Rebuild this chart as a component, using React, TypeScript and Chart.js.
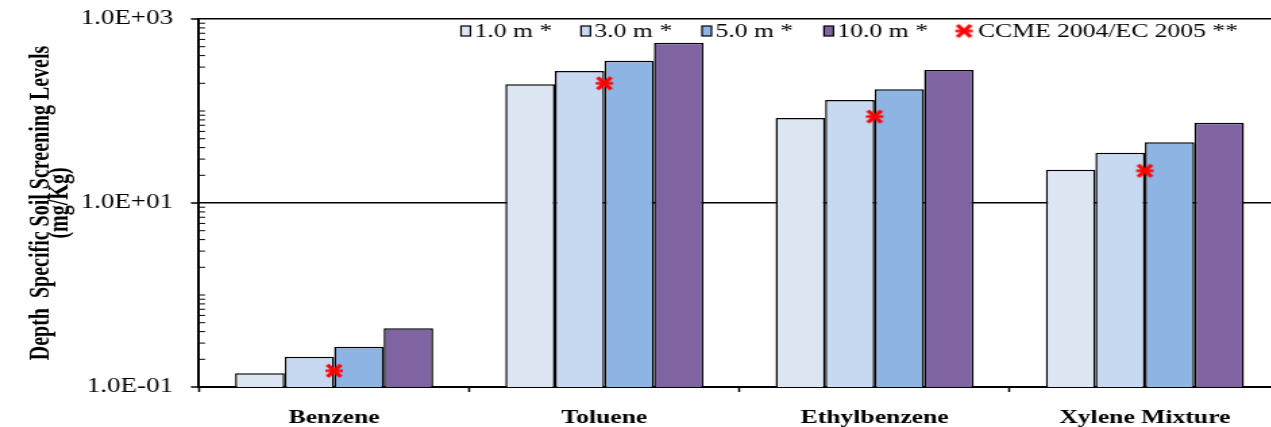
import React, { useEffect, useRef } from 'react';
import { Chart, registerables } from 'chart.js';
Chart.register(...registerables);

const categories = ['Benzene', 'Toluene', 'Ethylbenzene', 'Xylene Mixture'];
const seriesLabels = ['1.0 m *', '3.0 m *', '5.0 m *', '10.0 m *'];
const depth1m = [0.141, 195, 84, 23];
const depth3m = [0.213, 272, 132, 35.2];
const depth5m = [0.274, 352, 172, 45.7];
const depth10m = [0.435, 553, 279, 74.6];
const ccmeLabel = 'CCME 2004/EC 2005 **';
const ccmeValues = [0.15, 200, 87, 22.4];
const yTickValues = [0.1, 10, 1000];
const yTickLabels = ['1.0E-01', '1.0E+01', '1.0E+03'];
const yTitleLines = ['Depth  Specific Soil Screening Levels', '(mg/Kg)'];
const barColors = ['#DCE6F2', '#C6D9F1', '#8EB4E3', '#8064A2'];

const S = 1.35; // horizontal stretch of the whole picture
const FULL_W = 1285;
const INNER_W = Math.ceil(FULL_W / S);
const H = 427;

function makeStar(): HTMLCanvasElement {
  const c = document.createElement('canvas');
  c.width = 15;
  c.height = 17;
  const g = c.getContext('2d')!;
  g.strokeStyle = '#FF0000';
  g.lineWidth = 3.4;
  g.beginPath();
  g.moveTo(2.5, 2.5);
  g.lineTo(12.5, 14.5);
  g.moveTo(12.5, 2.5);
  g.lineTo(2.5, 14.5);
  g.stroke();
  g.lineWidth = 2.4;
  g.beginPath();
  g.moveTo(1, 8.5);
  g.lineTo(14, 8.5);
  g.stroke();
  return c;
}

export default function App() {
  const ref = useRef<HTMLCanvasElement | null>(null);

  useEffect(() => {
    if (!ref.current) return;
    const star = makeStar();
    const series = [depth1m, depth3m, depth5m, depth10m];

    const decoPlugin = {
      id: 'deco',
      afterDraw(chart: any) {
        const ctx = chart.ctx;
        const y = chart.scales.y;
        const area = chart.chartArea;
        ctx.save();
        ctx.strokeStyle = '#000';
        ctx.lineWidth = 1.5;
        yTickValues.forEach((v) => {
          const py = y.getPixelForValue(v);
          ctx.beginPath();
          ctx.moveTo(area.left - 6, py);
          ctx.lineTo(area.left, py);
          ctx.stroke();
        });
        ctx.lineWidth = 1;
        for (let n = -1; n <= 2; n++) {
          for (let k = 1; k <= 9; k++) {
            if (k === 1 && (n === -1 || n === 1)) continue;
            const v = k * Math.pow(10, n);
            const py = y.getPixelForValue(v);
            ctx.beginPath();
            ctx.moveTo(area.left, py);
            ctx.lineTo(area.left + 4.5, py);
            ctx.stroke();
          }
        }
        ctx.fillStyle = '#000';
        ctx.font = 'bold 20px "Liberation Serif"';
        ctx.textAlign = 'center';
        ctx.textBaseline = 'middle';
        const cy = (area.top + area.bottom) / 2;
        const xs = [42 / S, 61 / S];
        yTitleLines.forEach((t, i) => {
          ctx.save();
          ctx.translate(xs[i], cy);
          ctx.rotate(-Math.PI / 2);
          ctx.fillText(t, 0, 0);
          ctx.restore();
        });
        ctx.font = '19px "Liberation Serif"';
        ctx.textAlign = 'left';
        ctx.textBaseline = 'middle';
        const ly = 31;
        const boxX = [461, 581, 702, 824];
        seriesLabels.forEach((lab, i) => {
          const bx = boxX[i] / S;
          ctx.fillStyle = barColors[i];
          ctx.fillRect(bx, ly - 5, 7, 10);
          ctx.strokeStyle = '#000';
          ctx.lineWidth = 1.2;
          ctx.strokeRect(bx, ly - 5, 7, 10);
          ctx.fillStyle = '#000';
          ctx.fillText(lab, bx + 10, ly + 1);
        });
        const sx = 964 / S;
        ctx.drawImage(star, sx - star.width / 2, ly - star.height / 2);
        ctx.fillStyle = '#000';
        ctx.fillText(ccmeLabel, 978 / S, ly + 1);
        ctx.restore();
      },
    };

    const chart = new Chart(ref.current, {
      type: 'bar',
      data: {
        labels: categories,
        datasets: [
          {
            type: 'line',
            label: ccmeLabel,
            data: ccmeValues,
            showLine: false,
            pointStyle: star as any,
            pointRadius: 8,
            order: 0,
          } as any,
          ...series.map((d, i) => ({
            type: 'bar',
            label: seriesLabels[i],
            data: d,
            backgroundColor: barColors[i],
            borderColor: '#000',
            borderWidth: 1.5,
            categoryPercentage: 0.733,
            barPercentage: 1.0,
            order: 1,
          })),
        ],
      },
      options: {
        responsive: false,
        maintainAspectRatio: false,
        devicePixelRatio: 1,
        animation: false,
        layout: { autoPadding: false, padding: { top: 19, right: INNER_W - 1280 / S, left: 0, bottom: 0 } },
        plugins: { legend: { display: false }, tooltip: { enabled: false }, title: { display: false } },
        scales: {
          x: {
            grid: { offset: true, drawOnChartArea: false, tickLength: 5, tickColor: '#000', tickWidth: 1.5 },
            border: { color: '#000', width: 2 },
            ticks: {
              font: { family: '"Liberation Serif"', size: 19, weight: 'bold' },
              color: '#000',
              padding: 15,
              maxRotation: 0,
              autoSkip: false,
            },
            afterFit: (s: any) => {
              s.height = H - 387;
            },
          },
          y: {
            type: 'logarithmic',
            min: 0.1,
            max: 1000,
            afterBuildTicks: (s: any) => {
              s.ticks = yTickValues.map((v) => ({ value: v }));
            },
            afterFit: (s: any) => {
              s.width = 199 / S;
            },
            grid: {
              color: (c: any) => (c.tick && c.tick.value !== 0.1 ? '#000' : 'rgba(0,0,0,0)'),
              lineWidth: 1.5,
              tickColor: 'rgba(0,0,0,0)',
              tickLength: (199 - 173) / S,
            },
            border: { color: '#000', width: 2 },
            ticks: {
              font: { family: '"Liberation Serif"', size: 20 },
              color: '#000',
              padding: 0,
              callback: (v: any) => {
                const i = yTickValues.indexOf(Number(v));
                return i >= 0 ? yTickLabels[i] : '';
              },
            },
          },
        },
      },
      plugins: [decoPlugin],
    });
    return () => chart.destroy();
  }, []);

  return (
    <div style={{ position: 'fixed', left: 0, top: 0, width: 1271, height: H, overflow: 'hidden', background: '#fff' }}>
      <div style={{ position: 'absolute', left: 0, top: 0, width: INNER_W, height: H, transform: `scaleX(${S})`, transformOrigin: '0 0' }}>
        <canvas ref={ref} width={INNER_W} height={H} style={{ display: 'block', width: INNER_W, height: H }} />
      </div>
    </div>
  );
}
